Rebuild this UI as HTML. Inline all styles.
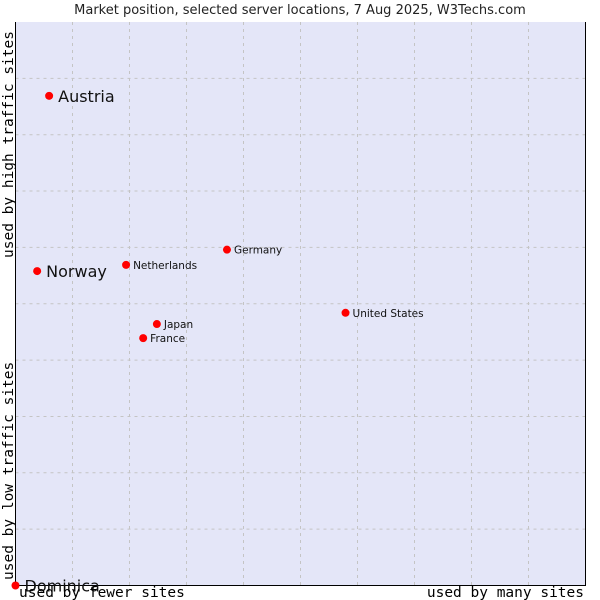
<!DOCTYPE html>
<html><head><meta charset="utf-8"><style>
body{margin:0;background:#fff;width:600px;height:600px;overflow:hidden}
svg{display:block}
.mono{font-family:"DejaVu Sans Mono","Liberation Mono",monospace;font-size:14.5px;fill:#000}
.lbl{font-family:"DejaVu Sans","Liberation Sans",sans-serif;fill:#000}
</style></head><body>
<svg id="chart" width="600" height="600">
<text x="300" y="14" text-anchor="middle" class="lbl" style="font-size:13px;fill:#222">Market position, selected server locations, 7 Aug 2025, W3Techs.com</text>
<rect x="15.5" y="22" width="570" height="563.5" fill="#e4e6f8" stroke="none"/>
<g id="grid"></g>
<path d="M15.5 22 V585.5 H585.5 V22" fill="none" stroke="#000" stroke-width="1"/>
<g id="points"></g>
<text class="mono" transform="translate(13,258) rotate(-90)">used by high traffic sites</text>
<text class="mono" transform="translate(13,580) rotate(-90)">used by low traffic sites</text>
<text class="mono" x="19" y="597">used by fewer sites</text>
<text class="mono" x="584" y="597" text-anchor="end">used by many sites</text>
</svg>
<script>
const countries=["Austria","Norway","Netherlands","Germany","Japan","France","United States","Dominica"];
const xValues=[5.9,3.8,19.4,37.1,24.8,22.4,57.9,0];
const yValues=[86.9,55.8,56.9,59.6,46.4,43.9,48.4,0];
const bigLabel=[true,true,false,false,false,false,false,true];
const gridTicks=[10,20,30,40,50,60,70,80,90];
const L=15.5,R=585.5,T=22,B=585.5;
const sx=v=>L+(R-L)*v/100, sy=v=>B-(B-T)*v/100;
const ns="http://www.w3.org/2000/svg";
const grid=document.getElementById('grid');
gridTicks.forEach(t=>{
  const v=document.createElementNS(ns,'line');
  v.setAttribute('x1',sx(t));v.setAttribute('x2',sx(t));v.setAttribute('y1',T);v.setAttribute('y2',B);
  v.setAttribute('stroke','#c4c4c4');v.setAttribute('stroke-dasharray','3,4');
  
  
  grid.appendChild(v);
  const h=document.createElementNS(ns,'line');
  h.setAttribute('x1',L);h.setAttribute('x2',R);h.setAttribute('y1',sy(t));h.setAttribute('y2',sy(t));
  h.setAttribute('stroke','#c4c4c4');h.setAttribute('stroke-dasharray','3,4');
  
  
  grid.appendChild(h);
});
const pts=document.getElementById('points');
countries.forEach((c,i)=>{
  const x=sx(xValues[i]),y=sy(yValues[i]);
  const d=document.createElementNS(ns,'circle');
  d.setAttribute('cx',x);d.setAttribute('cy',y);d.setAttribute('r',4);d.setAttribute('fill','#f00');
  
  
  pts.appendChild(d);
  const t=document.createElementNS(ns,'text');
  t.setAttribute('x',x+(bigLabel[i]?9:7));t.setAttribute('y',y+(bigLabel[i]?6:4));
  t.setAttribute('class','lbl');t.style.fontSize=bigLabel[i]?'16px':'10.5px';
  t.style.fill='#111';
  t.textContent=c;
  
  
  pts.appendChild(t);
});
</script>
</body></html>
